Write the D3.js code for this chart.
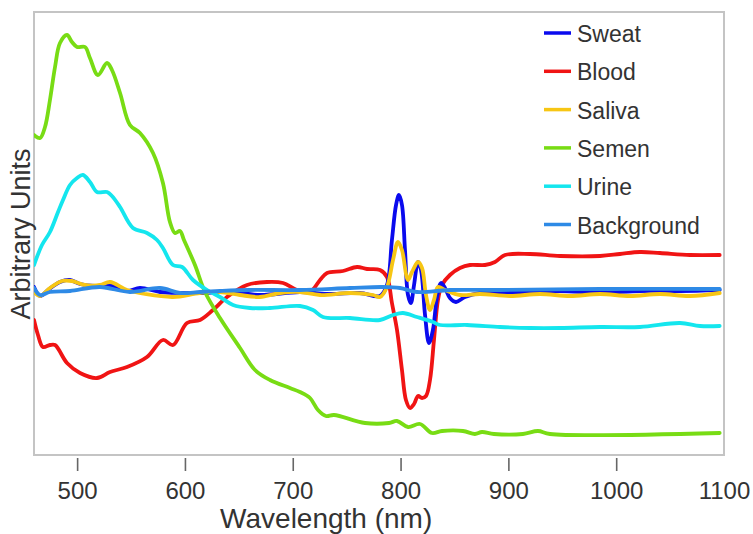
<!DOCTYPE html>
<html>
<head>
<meta charset="utf-8">
<script src="https://cdn.jsdelivr.net/npm/d3@7"></script>
<style>
  body { margin: 0; background: #fff; }
  text { font-family: "Liberation Sans", Arial, sans-serif; fill: #333; }
</style>
</head>
<body>
<div id="wrapper"></div>
<script>
// series, [wavelength nm, arbitrary units]
const seriesNames = ["Sweat", "Blood", "Saliva", "Semen", "Urine", "Background"];
const xTicks = [500, 600, 700, 800, 900, 1000, 1100];

const sweat = [[460,0.5],[465.6,-0.4],[473,0.2],[484.1,1.0],[493.4,1.2],[502.7,0.8],[516.6,0.6],[530.5,0.7],
  [546.3,0.1],[558.3,0.4],[576.9,0],[595.4,-0.1],[614,-0.1],[641.8,0],[669.6,-0.3],[706.7,0],[734.6,-0.2],
  [762.4,-0.1],[780.9,-0.4],[787.4,0.7],[792,5.2],[795.8,8.7],[798.5,9.7],[801.3,8.7],[804.1,4.2],[806.9,-0.3],
  [809.6,-1.1],[812.5,0.7],[816.2,3.0],[819,2.2],[822.7,-2.3],[826.4,-5.1],[830,-3.8],[833.7,-0.6],[837.5,0.9],
  [841.2,0.4],[845.8,-0.6],[851.4,-1.0],[859.8,-0.5],[873.7,-0.1],[892.2,0],[920,-0.1],[947.9,0.1],[985,-0.1],
  [1022,0.1],[1059.2,0.1],[1096,0.2]];

const blood = [[460,-2.8],[463.7,-4.3],[468.3,-5.5],[474.8,-5.3],[479.5,-5.3],[490.6,-7.1],[502.7,-8.1],
  [518.4,-8.6],[530.5,-8.0],[546.3,-7.5],[564.8,-6.5],[579.6,-4.8],[588.9,-5.3],[601.9,-3.1],[614,-2.8],
  [626,-1.8],[639,-0.5],[657.6,0.7],[676.1,1.0],[691,0.9],[703.9,0.2],[716,0],[725.3,1.2],[731.8,1.9],
  [746.6,2.1],[759.6,2.5],[768.9,2.3],[780.9,2.2],[787.4,1.5],[792,-1.1],[796.7,-3.8],[801.3,-7.8],
  [805,-10.8],[808.7,-11.6],[812.5,-11.2],[816.2,-10.4],[819.9,-10.6],[823.6,-10.4],[827.3,-8.8],[831,-4.8],
  [834.7,-0.8],[838.4,0.7],[845.8,1.7],[855.1,2.4],[864.4,2.7],[878.3,2.7],[887.6,3.0],[896.9,3.7],[920,3.8],
  [947.9,3.6],[985,3.6],[1003.5,3.8],[1022,4.0],[1040.6,3.9],[1068.4,3.7],[1096,3.7]];

const saliva = [[460,0],[465.6,-0.4],[474.8,0.4],[486,1.1],[495.2,1.1],[507.3,0.7],[521.2,0.7],[530.5,1.0],
  [546.3,0.2],[563,-0.2],[588.9,-0.5],[614,-0.1],[632.5,0],[651,-0.3],[669.6,-0.5],[688.2,-0.1],[706.7,0],
  [725.3,-0.3],[753.1,-0.1],[774.4,-0.3],[780.9,-0.5],[787.4,0.5],[793,3.2],[797.6,5.0],[801.3,4.2],
  [806.9,1.2],[810.6,2.0],[816.2,3.0],[819.9,2.4],[823.6,-0.3],[827.3,-1.8],[831,-0.8],[834.7,0.5],
  [841.2,0.2],[855.1,-0.3],[873.7,-0.2],[901.5,-0.4],[929.3,-0.2],[957.2,-0.4],[985,-0.2],[1012.8,-0.4],
  [1040.6,-0.2],[1068.4,-0.4],[1096,-0.1]];

const semen = [[460,15.7],[465.6,15.4],[470.2,16.5],[474.8,19.2],[479.5,22.5],[484.1,24.9],[490.6,25.7],
  [495.2,25.0],[499.9,24.5],[507.3,24.5],[511.9,23.4],[519.3,21.7],[527.7,22.9],[532.3,22.2],[539.8,19.9],
  [549,16.7],[558.3,15.9],[570.4,13.9],[579.6,10.9],[586.1,7.0],[590.8,5.9],[595.4,6.1],[599.1,5.2],
  [609.3,2.7],[618.6,0],[632.5,-2.6],[651.1,-5.6],[665,-7.8],[678.9,-8.8],[697.4,-9.6],[706.7,-10],
  [716,-10.6],[723.4,-11.8],[730.8,-12.4],[738.3,-12.3],[767,-13.1],[789.3,-13.1],[796.7,-12.9],
  [806.9,-13.5],[818,-13.2],[829.1,-14.1],[838.4,-13.9],[857.9,-13.9],[869,-14.2],[875.5,-14.0],
  [886.6,-14.2],[913.5,-14.2],[927.5,-13.9],[938.6,-14.2],[1096,-14.1]];

const urine = [[460,2.7],[467.4,4.7],[474.8,6.0],[482.3,8.0],[486.9,9.2],[493.4,10.7],[499.9,11.4],
  [505.4,11.7],[511.9,11.0],[518.4,10.0],[527.7,10.0],[532.3,9.6],[539.8,8.5],[551.8,6.4],[564.8,5.9],
  [574.1,5.2],[579.6,4.4],[588.9,2.7],[597.3,2.5],[607.5,1.2],[620.5,0.2],[632.5,-0.5],[644.6,-1.3],
  [660.3,-1.6],[678.9,-1.6],[706.7,-1.4],[718.8,-1.8],[728,-2.5],[753.1,-2.6],[780.9,-2.8],[793,-2.3],
  [802.2,-2.1],[815.2,-2.5],[830,-3.0],[836.6,-3.3],[861.6,-3.3],[892.2,-3.5],[920,-3.6],[947.9,-3.6],
  [985,-3.5],[1022,-3.5],[1059.2,-3.1],[1077.7,-3.4],[1096,-3.4]];

const background = [[460,0.4],[465.6,-0.3],[474.8,0],[493.4,0.1],[521.2,0.5],[549,0],[576.9,0.4],
  [595.4,-0.1],[614,0],[632.5,0.1],[660.3,0.2],[706.7,0.2],[753.1,0.4],[783.7,0.5],[799.5,0.4],
  [815.2,0],[845.8,0.2],[892.2,0.2],[985,0.3],[1096,0.3]];

const seriesData = [sweat, blood, saliva, semen, urine, background];
const colors = ["#0a0aee", "#f01414", "#f7c614", "#78dc14", "#14e6ee", "#2e8ae6"];
const drawOrder = [1, 0, 2, 3, 4, 5];

const margin = {top: 12, right: 29, bottom: 79, left: 34},
  width = 753 - margin.left - margin.right,
  height = 534 - margin.top - margin.bottom;

const svg = d3.select("#wrapper")
  .append("svg")
  .attr("width", 753)
  .attr("height", 534);

const bounds = svg.append("g")
  .attr("transform", "translate(" + margin.left + "," + margin.top + ")");

const xScale = d3.scaleLinear().domain([460, 1100]).range([0, width]);
const yScale = d3.scaleLinear().domain([-16.3, 28]).range([height, 0]);

bounds.append("clipPath").attr("id", "clip")
  .append("rect").attr("width", width).attr("height", height);

// frame
bounds.append("rect")
  .attr("width", width)
  .attr("height", height)
  .attr("fill", "none")
  .attr("stroke", "#c4c4c4")
  .attr("stroke-width", 2);

const line = d3.line()
  .x(d => xScale(d[0]))
  .y(d => yScale(d[1]))
  .curve(d3.curveCatmullRom.alpha(0.5));

bounds.append("g").attr("clip-path", "url(#clip)")
  .selectAll("path")
  .data(drawOrder)
  .join("path")
  .attr("d", i => line(seriesData[i]))
  .attr("fill", "none")
  .attr("stroke", i => colors[i])
  .attr("stroke-width", 3.8)
  .attr("stroke-linejoin", "round")
  .attr("stroke-linecap", "round");

// x axis
const xAxis = d3.axisBottom(xScale)
  .tickValues(xTicks)
  .tickSize(13)
  .tickPadding(11)
  .tickFormat(d3.format("d"));

const gx = bounds.append("g")
  .attr("transform", "translate(0," + (height + 3) + ")")
  .call(xAxis);
gx.select(".domain").remove();
gx.selectAll(".tick line").attr("stroke", "#666").attr("stroke-width", 1.6)
  .attr("opacity", d => d === 1100 ? 0 : 1);
gx.selectAll(".tick text")
  .attr("fill", "#333")
  .style("font-size", "24px")
  .style("font-family", "'Liberation Sans', Arial, sans-serif");

bounds.append("text")
  .attr("x", xScale(731))
  .attr("y", height + 73)
  .attr("text-anchor", "middle")
  .style("font-size", "28px")
  .text("Wavelength (nm)");

bounds.append("text")
  .attr("transform", "translate(" + (-4) + "," + 222 + ") rotate(-90)")
  .attr("text-anchor", "middle")
  .style("font-size", "27px")
  .text("Arbitrary Units");

// legend
const legend = svg.append("g")
  .selectAll("g")
  .data(seriesNames)
  .join("g")
  .attr("transform", (d, i) => "translate(544," + (33 + i * 38.3) + ")");

legend.append("line")
  .attr("x1", 0).attr("x2", 27)
  .attr("stroke", (d, i) => colors[i])
  .attr("stroke-width", 3.5);

legend.append("text")
  .attr("x", 33)
  .attr("y", 1)
  .attr("dominant-baseline", "central")
  .style("font-size", "23px")
  .text(d => d);
</script>
</body>
</html>
